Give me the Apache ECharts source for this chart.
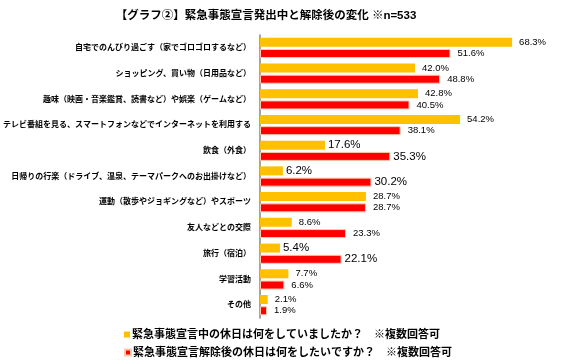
<!DOCTYPE html>
<html><head><meta charset="utf-8">
<script src="https://cdn.jsdelivr.net/npm/echarts@6/dist/echarts.min.js"></script>
<style>html,body{margin:0;padding:0;background:#fff}#c{width:574px;height:364px}</style>
</head><body><div id="c"></div>
<script>
const categories = [
  '自宅でのんびり過ごす（家でゴロゴロするなど）',
  'ショッピング、買い物（日用品など）',
  '趣味（映画・音楽鑑賞、読書など）や娯楽（ゲームなど）',
  'テレビ番組を見る、スマートフォンなどでインターネットを利用する',
  '飲食（外食）',
  '日帰りの行楽（ドライブ、温泉、テーマパークへのお出掛けなど）',
  '運動（散歩やジョギングなど）やスポーツ',
  '友人などとの交際',
  '旅行（宿泊）',
  '学習活動',
  'その他'
];
const during = [68.3, 42.0, 42.8, 54.2, 17.6, 6.2, 28.7, 8.6, 5.4, 7.7, 2.1];
const after = [51.6, 48.8, 40.5, 38.1, 35.3, 30.2, 28.7, 23.3, 22.1, 6.6, 1.9];
const bigLabelIdx = [4, 5, 8];
const seriesNames = [
  '緊急事態宣言中の休日は何をしていましたか？　※複数回答可',
  '緊急事態宣言解除後の休日は何をしたいですか？　※複数回答可'
];
const FONT = '"Liberation Sans", "Noto Sans CJK JP", sans-serif';

function mk(vals) {
  return vals.map((v, i) => {
    const big = bigLabelIdx.indexOf(i) >= 0;
    return { value: v, label: { fontSize: big ? 11.5 : 9.5, distance: big ? 3 : 7 } };
  });
}
function lg(name, top) {
  return {
    left: 124, top: top, itemWidth: 6, itemHeight: 6, icon: 'rect', padding: 0,
    textStyle: { fontSize: 11, fontWeight: 'bold', color: '#000', fontFamily: FONT, padding: [0, 0, 0, -3] },
    data: [name]
  };
}
const chart = echarts.init(document.getElementById('c'));
chart.setOption({
  animation: false,
  title: {
    text: '【グラフ②】緊急事態宣言発出中と解除後の変化 ※n=533',
    left: 261, textAlign: 'center', top: 5,
    textStyle: { fontSize: 11.5, fontWeight: 'bold', color: '#000', fontFamily: FONT }
  },
  legend: [lg(seriesNames[0], 329), lg(seriesNames[1], 347)],
  grid: { left: 259, right: 15, top: 35, bottom: 46 },
  xAxis: { type: 'value', min: 0, max: 81, show: false },
  yAxis: {
    type: 'category', data: categories, inverse: true,
    axisLine: { lineStyle: { color: '#868686', width: 1.5 } },
    axisTick: { show: false },
    axisLabel: { fontSize: 8, fontWeight: 'bold', color: '#000', fontFamily: FONT, margin: 9 }
  },
  series: [
    {
      name: seriesNames[0], type: 'bar', data: mk(during), barWidth: 9, barGap: '25%',
      itemStyle: { color: '#FFC000' },
      label: { show: true, position: 'right', color: '#000', fontFamily: FONT,
        formatter: p => p.value.toFixed(1) + '%' }
    },
    {
      name: seriesNames[1], type: 'bar', data: mk(after), barWidth: 9,
      itemStyle: { color: '#FF0000', borderColor: '#F8CBAD', borderWidth: 1 },
      label: { show: true, position: 'right', color: '#000', fontFamily: FONT,
        formatter: p => p.value.toFixed(1) + '%' }
    }
  ]
});
</script></body></html>
